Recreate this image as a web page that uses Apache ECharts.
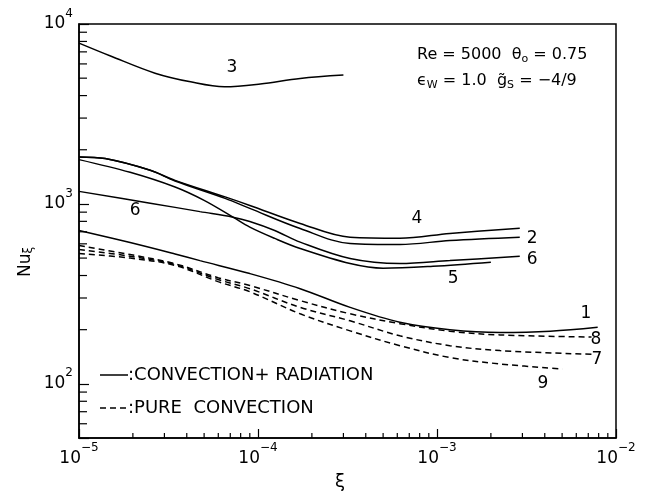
<!DOCTYPE html>
<html><head><meta charset="utf-8">
<script src="https://cdn.jsdelivr.net/npm/echarts@6/dist/echarts.min.js"></script>
<style>html,body{margin:0;padding:0;background:#fff}#c{width:658px;height:495px}</style>
</head><body><div id="c"></div>
<script>
// ---- data ----
const xi3 = [1e-5, 1.5e-5, 2.66e-5, 4.2e-5, 6.5e-5, 1.03e-4, 1.72e-4, 3e-4];
const nu3 = [7830, 6640, 5330, 4770, 4480, 4640, 4980, 5200];

const xi4 = [1e-5, 1.4e-5, 2.5e-5, 3.44e-5, 6.55e-5, 9e-5, 1.72e-4, 3.27e-4, 6.2e-4, 1.18e-3, 2.9e-3];
const nu4 = [1823, 1786, 1537, 1352, 1094, 981, 779, 653, 645, 685, 733];

const xi2 = [1e-5, 1.4e-5, 2.5e-5, 3.44e-5, 6.55e-5, 9e-5, 1.72e-4, 3.27e-4, 6.2e-4, 1.18e-3, 2.9e-3];
const nu2 = [1823, 1786, 1537, 1340, 1073, 944, 730, 603, 595, 626, 653];

const xi5 = [1e-5, 1.93e-5, 3.44e-5, 5e-5, 7.25e-5, 9e-5, 1.24e-4, 1.72e-4, 3.27e-4, 5e-4, 9.5e-4, 2e-3];
const nu5 = [1763, 1498, 1241, 1046, 844, 743, 643, 565, 466, 439, 450, 474];

const xi6 = [1e-5, 2.5e-5, 4.74e-5, 7.25e-5, 9e-5, 1.24e-4, 1.72e-4, 3.27e-4, 6.2e-4, 1.18e-3, 2.9e-3];
const nu6 = [1174, 1010, 906, 844, 799, 712, 613, 497, 466, 484, 512];

const xi1 = [1e-5, 1.93e-5, 3.44e-5, 4.74e-5, 9e-5, 1.72e-4, 3.27e-4, 6.2e-4, 1.18e-3, 2.25e-3, 4.3e-3, 7.9e-3];
const nu1 = [712, 610, 527, 484, 410, 338, 266, 220, 200, 193, 196, 206];

const xi8 = [1e-5, 1.93e-5, 3.44e-5, 5.98e-5, 9e-5, 1.72e-4, 3.27e-4, 6.2e-4, 1.18e-3, 2.25e-3, 7.3e-3];
const nu8 = [587, 523, 465, 389, 352, 290, 245, 216, 196, 187, 182];

const xi7 = [1e-5, 1.93e-5, 3.44e-5, 5.98e-5, 9e-5, 1.72e-4, 3.27e-4, 6.2e-4, 1.18e-3, 2.25e-3, 7.3e-3];
const nu7 = [558, 512, 460, 380, 338, 266, 224, 185, 163, 153, 146];

const xi9 = [1e-5, 1.93e-5, 3.44e-5, 5.98e-5, 9e-5, 1.72e-4, 3.27e-4, 6.2e-4, 1.18e-3, 2.25e-3, 5e-3];
const nu9 = [530, 500, 455, 370, 325, 245, 197, 163, 140, 129, 121];

// curve label anchors (data coordinates)
const labelText = ['3', '6', '4', '2', '6', '5', '1', '8', '7', '9'];
const labelXi   = [7.16e-5, 2.06e-5, 7.73e-4, 3.4e-3, 3.4e-3, 1.23e-3, 6.79e-3, 7.73e-3, 7.82e-3, 3.91e-3];
const labelNu   = [5760, 920, 830, 643, 491, 385, 245, 176, 136, 100];

// axes
const xMin = 1e-5, xMax = 1e-2, yMin = 50, yMax = 1e4;
const xDecades = [1e-5, 1e-4, 1e-3];
const yDecades = [10, 100, 1000];
const minorMultipliers = [2, 3, 4, 5, 6, 7, 8, 9];

const legendSolid = ':CONVECTION+ RADIATION';
const legendDashed = ':PURE  CONVECTION';

// ---- chart ----
const FONT = 'DejaVu Sans';
const chart = echarts.init(document.getElementById('c'), null, {renderer: 'canvas'});
const pairs = (xs, ys) => xs.map((x, i) => [x, ys[i]]);
function lineSeries(name, xs, ys, dashed) {
  return {
    type: 'line', name, data: pairs(xs, ys), smooth: 0.35, symbol: 'none', showSymbol: false,
    lineStyle: {color: '#000', width: 1.5, type: dashed ? [6, 4] : 'solid'},
    animation: false, z: 3, silent: true
  };
}
const minorData = [];
xDecades.forEach(d => minorMultipliers.forEach(m => { const v = m * d; if (v > xMin && v < xMax) minorData.push([v, yMin, 0]); }));
yDecades.forEach(d => minorMultipliers.forEach(m => { const v = m * d; if (v > yMin && v < yMax) minorData.push([xMin, v, 1]); }));

function supLabel(v, neg) {
  const e = Math.log10(v);
  if (Math.abs(e - Math.round(e)) > 1e-6) return '';
  const n = Math.abs(Math.round(e));
  return '{b|10}{s|' + (neg ? '−' : '') + n + '}';
}
const richLbl = {
  b: {fontSize: 17, fontFamily: FONT, color: '#000', padding: [8, 0, 0, 0], verticalAlign: 'bottom'},
  s: {fontSize: 12, fontFamily: FONT, color: '#000', verticalAlign: 'top'}
};

chart.setOption({
  animation: false,
  backgroundColor: '#fff',
  grid: {left: 79, right: 42, top: 24, bottom: 57, containLabel: false, outerBoundsMode: 'none',
         show: true, borderColor: '#000', borderWidth: 1.5, backgroundColor: 'transparent'},
  xAxis: {
    type: 'log', logBase: 10, min: xMin, max: xMax,
    axisLine: {show: true, onZero: false, lineStyle: {color: '#000', width: 1.5}},
    axisTick: {show: true, inside: true, length: 9, lineStyle: {color: '#000', width: 1.2}},
    minorTick: {show: false}, splitLine: {show: false}, minorSplitLine: {show: false},
    axisLabel: {margin: 4, formatter: v => supLabel(v, true), rich: richLbl}
  },
  yAxis: {
    type: 'log', logBase: 10, min: yMin, max: yMax,
    axisLine: {show: true, onZero: false, lineStyle: {color: '#000', width: 1.5}},
    axisTick: {show: true, inside: true, length: 10, lineStyle: {color: '#000', width: 1.2}},
    minorTick: {show: false}, splitLine: {show: false}, minorSplitLine: {show: false},
    axisLabel: {margin: 6, padding: [0, 0, 8, 0], formatter: v => supLabel(v, false), rich: richLbl}
  },
  series: [
    lineSeries('3', xi3, nu3, false),
    lineSeries('4', xi4, nu4, false),
    lineSeries('2', xi2, nu2, false),
    lineSeries('5', xi5, nu5, false),
    lineSeries('6', xi6, nu6, false),
    lineSeries('1', xi1, nu1, false),
    lineSeries('8', xi8, nu8, true),
    lineSeries('7', xi7, nu7, true),
    lineSeries('9', xi9, nu9, true),
    {
      type: 'custom', coordinateSystem: 'cartesian2d', data: minorData, encode: {x: 0, y: 1},
      clip: false, silent: true, animation: false, z: 4,
      renderItem: function (params, api) {
        const kind = api.value(2);
        const p = api.coord([api.value(0), api.value(1)]);
        if (kind === 0) return {type: 'line', shape: {x1: p[0], y1: p[1], x2: p[0], y2: p[1] - 5}, style: {stroke: '#000', lineWidth: 1.2}};
        return {type: 'line', shape: {x1: p[0], y1: p[1], x2: p[0] + 8, y2: p[1]}, style: {stroke: '#000', lineWidth: 1.2}};
      }
    }
  ]
});

const graphics = [];
labelText.forEach((t, i) => {
  const p = chart.convertToPixel({gridIndex: 0}, [labelXi[i], labelNu[i]]);
  graphics.push({type: 'text', x: p[0], y: p[1], z: 10, silent: true,
    style: {text: t, fontSize: 17, fontFamily: FONT, fill: '#000', align: 'center', verticalAlign: 'middle'}});
});
// legend
graphics.push({type: 'line', shape: {x1: 100, y1: 375, x2: 128, y2: 375}, style: {stroke: '#000', lineWidth: 1.5}, z: 10});
graphics.push({type: 'text', x: 128, y: 375, z: 10, style: {text: legendSolid, fontSize: 18, fontFamily: FONT, fill: '#000', align: 'left', verticalAlign: 'middle'}});
graphics.push({type: 'line', shape: {x1: 100, y1: 408, x2: 128, y2: 408}, style: {stroke: '#000', lineWidth: 1.5, lineDash: [6, 4]}, z: 10});
graphics.push({type: 'text', x: 128, y: 408, z: 10, style: {text: legendDashed, fontSize: 18, fontFamily: FONT, fill: '#000', align: 'left', verticalAlign: 'middle'}});
// parameters annotation
const richAnn = {
  n: {fontSize: 16, fontFamily: FONT, fill: '#000', color: '#000', lineHeight: 18, padding: [0, 0, 5, 0], verticalAlign: 'top'},
  s: {fontSize: 11, fontFamily: FONT, fill: '#000', color: '#000', lineHeight: 12, verticalAlign: 'bottom'}
};
graphics.push({type: 'text', x: 417, y: 56, z: 10, style: {text: '{n|Re = 5000  θ}{s|o}{n| = 0.75}', rich: richAnn, align: 'left', verticalAlign: 'middle'}});
graphics.push({type: 'text', x: 417, y: 82, z: 10, style: {text: '{n|ϵ}{s|W}{n| = 1.0  g̃}{s|S}{n| = −4/9}', rich: richAnn, align: 'left', verticalAlign: 'middle'}});
// axis names
graphics.push({type: 'text', x: 340, y: 482, z: 10, style: {text: 'ξ', fontSize: 18, fontFamily: FONT, fill: '#000', align: 'center', verticalAlign: 'middle'}});
graphics.push({type: 'text', x: 26, y: 262, rotation: Math.PI / 2, z: 10,
  style: {text: '{n|Nu}{s|ξ}', rich: {
    n: {fontSize: 17, fontFamily: FONT, color: '#000', lineHeight: 18, padding: [0, 0, 5, 0], verticalAlign: 'top'},
    s: {fontSize: 12, fontFamily: FONT, color: '#000', lineHeight: 13, verticalAlign: 'bottom'}},
    align: 'center', verticalAlign: 'middle'}});
chart.setOption({graphic: graphics});
</script></body></html>
